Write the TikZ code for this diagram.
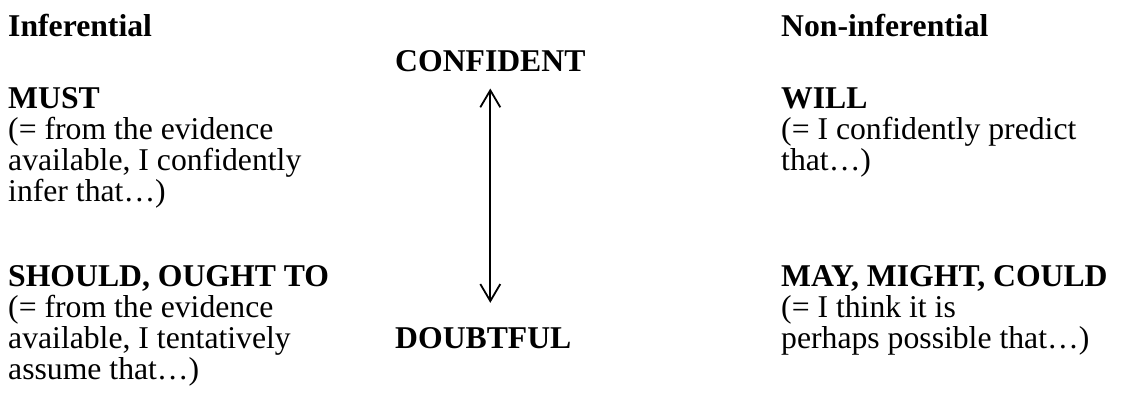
\documentclass[tikz,border=0pt]{standalone}
\usepackage{fontspec}
\setmainfont{Liberation Serif}
\usetikzlibrary{arrows.meta}
\begin{document}
\begin{tikzpicture}[x=1pt,y=-1pt,
  every node/.style={inner sep=0pt, anchor=base west, font=\fontsize{31.7}{31}\selectfont},
  hd/.style={font=\fontsize{31.7}{31}\selectfont\bfseries},
  scale line/.style={line width=1.8pt, {Straight Barb[length=17pt,width=20pt,line width=1.8pt]}-{Straight Barb[length=17pt,width=20pt,line width=1.8pt]}}]
\useasboundingbox (0,0) rectangle (1133,408);
% left column
\node[hd] (inf) at (8,36) {Inferential};
\node[hd] (must) at (8,108) {MUST};
\node (must1) at (8,139) {(= from the evidence};
\node (must2) at (8,170) {available, I confidently};
\node (must3) at (8,201) {infer that…)};
\node[hd] (should) at (8,286) {SHOULD, OUGHT TO};
\node (should1) at (8,317) {(= from the evidence};
\node (should2) at (8,348) {available, I tentatively};
\node (should3) at (8,379) {assume that…)};
% middle
\node[hd] (conf) at (395,71) {CONFIDENT};
\node[hd] (doubt) at (395,348) {DOUBTFUL};
\draw[scale line] ([yshift=-17pt]conf.south) -- ([yshift=24pt]conf.south |- doubt.north);
% right column
\node[hd] (noninf) at (781,36) {Non-inferential};
\node[hd] (will) at (781,108) {WILL};
\node (will1) at (781,139) {(= I confidently predict};
\node (will2) at (781,170) {that…)};
\node[hd] (may) at (781,286) {MAY, MIGHT, COULD};
\node (may1) at (781,317) {(= I think it is};
\node (may2) at (781,348) {perhaps possible that…)};
\end{tikzpicture}
\end{document}
